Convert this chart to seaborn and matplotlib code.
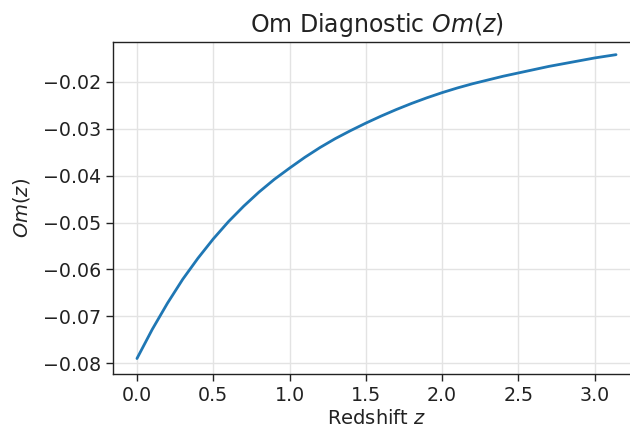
import matplotlib
matplotlib.use("Agg")
import matplotlib.pyplot as plt
import seaborn as sns
import pandas as pd

# Data
redshift = [0.0, 0.1, 0.2, 0.3, 0.4, 0.5, 0.6, 0.7, 0.8, 0.9,
            1.0, 1.1, 1.2, 1.3, 1.4, 1.5, 1.6, 1.7, 1.8, 1.9,
            2.0, 2.1, 2.2, 2.3, 2.4, 2.5, 2.6, 2.7, 2.8, 2.9,
            3.0, 3.14]
om_values = [-0.0790, -0.0728, -0.0672, -0.0621, -0.0576, -0.0535, -0.0498, -0.0465, -0.0435, -0.0408,
             -0.0384, -0.0361, -0.0340, -0.0321, -0.0304, -0.0288, -0.0273, -0.0259, -0.0246, -0.0234,
             -0.0223, -0.0213, -0.0204, -0.0196, -0.0188, -0.0181, -0.0174, -0.0167, -0.0161, -0.0155,
             -0.0149, -0.0142]
x_ticks = [0.0, 0.5, 1.0, 1.5, 2.0, 2.5, 3.0]
y_ticks = [-0.08, -0.07, -0.06, -0.05, -0.04, -0.03, -0.02]

sns.set_theme(style="whitegrid", rc={
    "axes.edgecolor": "#222222",
    "axes.linewidth": 1.0,
    "grid.color": "#e3e3e3",
    "grid.linewidth": 1.0,
    "xtick.bottom": True,
    "ytick.left": True,
    "xtick.color": "#222222",
    "ytick.color": "#222222",
    "xtick.major.size": 5,
    "ytick.major.size": 5,
    "xtick.major.width": 1.0,
    "ytick.major.width": 1.0,
})
plt.rcParams["font.family"] = ["DejaVu Sans"]

df = pd.DataFrame({"z": redshift, "Om": om_values})

fig = plt.figure(figsize=(6.3, 4.3), dpi=100)
ax = fig.add_axes([113 / 630, 1 - 374 / 430, (640 - 113) / 630, (374 - 42) / 430])

sns.lineplot(data=df, x="z", y="Om", ax=ax, color="#1f77b4", linewidth=2.0)

ax.set_xticks(x_ticks)
ax.set_yticks(y_ticks)
ax.set_xlim(-0.157, 3.297)
ax.set_ylim(-0.0823, -0.0115)
ax.tick_params(axis="both", labelsize=13.7, colors="#222222")
ax.set_xticklabels([f"{t:.1f}" for t in x_ticks])
ax.set_yticklabels([f"\u2212{abs(t):.2f}" for t in y_ticks])

ax.set_xlabel("Redshift $z$", fontsize=14, color="#222222", labelpad=3)
ax.set_ylabel("$Om(z)$", fontsize=14, color="#222222", labelpad=8)
ax.set_title("Om Diagnostic $Om(z)$", fontsize=17, color="#222222", pad=7)

for side in ["left", "bottom", "top"]:
    ax.spines[side].set_visible(True)
    ax.spines[side].set_color("#222222")
ax.spines["right"].set_visible(False)

fig.savefig("out.png", dpi=100)
